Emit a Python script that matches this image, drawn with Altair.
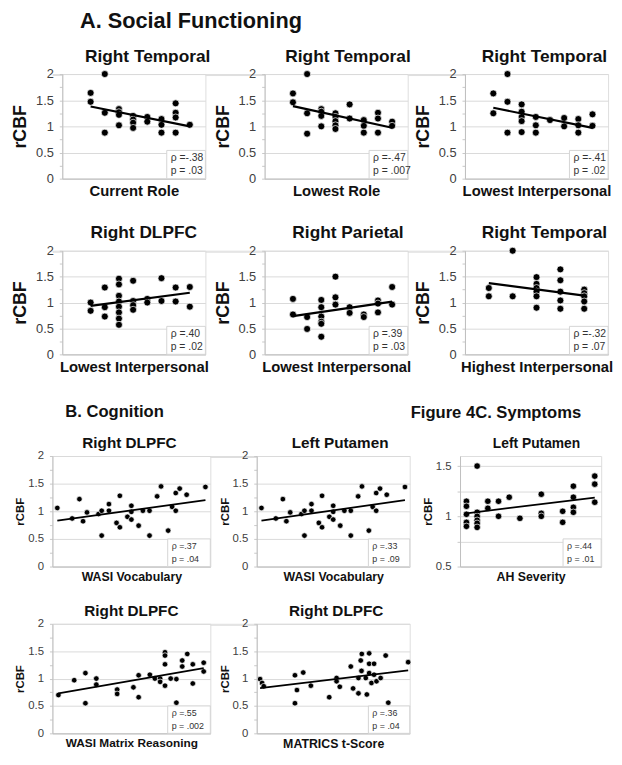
import altair as alt
import pandas as pd
import numpy as np

FONT = "Liberation Sans"

# ---------------- data ----------------
# A. Social functioning (x = ordinal rating, y = rCBF)
a1_x = [1, 1, 2, 2, 2, 3, 3, 3, 3, 4, 4, 4, 4, 5, 5, 6, 6, 6, 7, 7, 7, 7, 8]
a1_y = [1.64, 1.47, 2.0, 1.26, 0.88, 1.33, 1.27, 1.22, 1.02, 1.2, 1.13, 1.07, 0.97,
        1.18, 1.09, 1.14, 1.03, 0.88, 1.44, 1.26, 1.17, 0.88, 1.03]

a2_x = [1, 1, 2, 2, 2, 3, 3, 3, 3, 4, 4, 4, 4, 4, 5, 5, 6, 6, 6, 7, 7, 7, 8, 8]
a2_y = [1.63, 1.46, 2.0, 1.25, 0.86, 1.33, 1.28, 1.2, 1.0, 1.25, 1.18, 1.1, 1.02, 0.95,
        1.42, 1.15, 1.12, 1.01, 0.88, 1.26, 1.15, 0.88, 1.09, 1.01]

a3_x = [1, 1, 2, 2, 2, 3, 3, 3, 3, 3, 4, 4, 4, 5, 6, 6, 7, 7, 7, 8, 8]
a3_y = [1.63, 1.25, 2.0, 1.47, 0.88, 1.42, 1.28, 1.18, 1.1, 0.89, 1.18, 1.02, 0.88,
        1.12, 1.16, 1.0, 1.14, 1.02, 0.88, 1.23, 1.01]

a4_x = [1, 1, 2, 2, 2, 3, 3, 3, 3, 3, 3, 3, 3, 4, 4, 4, 4, 5, 5, 6, 6, 7, 7, 8, 8]
a4_y = [1.0, 0.84, 1.29, 0.91, 0.73, 1.46, 1.35, 1.13, 1.02, 0.92, 0.81, 0.69, 0.57,
        1.42, 1.03, 0.95, 0.86, 1.07, 1.0, 1.47, 1.03, 1.29, 1.02, 1.3, 0.92]

a5_x = [1, 1, 2, 2, 3, 3, 3, 3, 3, 3, 4, 4, 4, 5, 5, 6, 6, 7, 7, 7, 8, 8]
a5_y = [1.07, 0.77, 0.72, 0.49, 1.05, 0.91, 0.73, 0.63, 0.59, 0.34, 1.5, 1.1, 0.96,
        0.91, 0.8, 0.77, 0.72, 1.04, 0.98, 0.81, 1.3, 0.96]

a6_x = [1, 1, 2, 2, 3, 3, 3, 3, 3, 3, 4, 4, 4, 4, 4, 5, 5, 5, 5, 5]
a6_y = [1.28, 1.12, 2.0, 1.12, 1.49, 1.36, 1.28, 1.21, 1.12, 0.9, 1.64, 1.43, 1.21,
        1.04, 0.88, 1.25, 1.18, 1.12, 1.02, 0.88]

# B. Cognition
vocab_x = [3.1, 12.5, 17.1, 19.4, 21.9, 29.2, 31.2, 31.2, 35.8, 35.8, 40.6, 42.7, 42.7,
           47.5, 50, 50, 50, 54.6, 57.3, 61.5, 61.5, 66.3, 68.8, 73.3, 75.8, 78.1, 78.1,
           80.6, 85, 96.9]
vocab_y = [1.06, 0.87, 1.22, 0.82, 0.98, 0.95, 1.01, 0.56, 1.13, 1.01, 0.79, 1.28, 0.71,
           0.9, 1.1, 0.99, 0.85, 0.74, 1.01, 1.01, 0.56, 1.27, 1.45, 0.65, 1.08, 1.01, 1.33,
           1.41, 1.3, 1.44]

matrix_x = [3.8, 13.8, 20.9, 20.9, 27.8, 27.8, 41, 41, 51.3, 54.6, 54.6, 61.7, 64.9, 68.2,
            68.2, 71.3, 71.3, 71.3, 71.3, 74.9, 78.5, 78.5, 82.2, 82.2, 85.4, 88.9, 88.9,
            95.8, 95.8]
matrix_y = [0.70, 0.97, 1.10, 0.55, 1.0, 0.89, 0.8, 0.72, 0.84, 1.06, 0.66, 1.07, 1.0, 1.0,
            0.94, 1.48, 1.42, 1.26, 0.87, 1.0, 0.99, 0.56, 1.33, 1.22, 1.45, 1.26, 0.91,
            1.29, 1.13]

matrics_x = [2.2, 3.5, 4.6, 25, 26.3, 25, 30.4, 35.4, 47.4, 52.2, 52.2, 54.3, 61.5, 63,
             66.5, 66.5, 68, 68.7, 68.5, 71.3, 72, 73.5, 73.5, 73.5, 75, 76.7, 76.7, 78.3,
             81, 84.3, 86, 99]
matrics_y = [0.99, 0.92, 0.86, 1.06, 0.79, 0.55, 1.11, 0.87, 0.66, 1.01, 0.95, 0.85, 1.22,
             0.82, 0.73, 1.01, 1.33, 1.45, 1.14, 1.01, 0.71, 1.46, 1.27, 1.1, 0.92, 1.27,
             1.07, 0.95, 1.01, 1.42, 0.56, 1.3]

# C. Symptoms
ah_x = [1, 1, 1, 1, 1, 2, 2, 2, 2, 2, 2, 3, 3, 4, 4, 5, 6, 8, 8, 8, 10, 10, 11, 11, 11, 11,
        13, 13, 13]
ah_y = [1.15, 1.1, 1.02, 0.94, 0.9, 1.5, 1.04, 1.0, 0.96, 0.93, 0.89, 1.15, 1.08, 1.15, 1.0,
        1.19, 0.98, 1.22, 1.03, 1.0, 1.05, 0.94, 1.3, 1.19, 1.09, 1.04, 1.4, 1.32, 1.14]

# ---------------- styles ----------------
BIG = dict(title=17.5, xt=15, yt=18, lab=13, rho=10.5, size=50, lw=2.2,
           xtp=5, ytp=6, lpad=6, toff=3, boxfrac=0.27)
SMALL = dict(title=15.5, xt=12.5, yt=11.5, lab=11.5, rho=9, size=32, lw=1.8,
             xtp=4, ytp=2, lpad=6, toff=-1.5, boxfrac=0.25)
SYM = dict(SMALL, title=14, size=44, toff=5)


def panel(xs, ys, title, xtitle, rho, pval, xdom, ydom, w, h, st, dx, allgrid=False):
    df = pd.DataFrame({"x": xs, "y": ys})
    ticks = [round(v, 2) for v in np.arange(ydom[0], ydom[1] + 1e-9, 0.25)]
    xscale = alt.Scale(domain=xdom, nice=False, zero=False)
    yscale = alt.Scale(domain=ydom, nice=False, zero=False)
    xaxis = alt.Axis(title=xtitle, labels=False, ticks=False, grid=False,
                     domainColor="#bfbfbf", titleFontSize=st["xt"], titleFontWeight="bold",
                     titleFont=FONT, titleColor="#111", titlePadding=st["xtp"])
    grid_op = 1 if allgrid else {"condition": {"test": "datum.value % 0.5 != 0", "value": 0},
                                  "value": 1}
    yaxis = alt.Axis(title="rCBF", values=ticks,
                     labelExpr="datum.value % 0.5 == 0 ? format(datum.value, '~g') : ''",
                     grid=True, gridColor="#d9d9d9", gridOpacity=grid_op,
                     tickColor="#c8c8c8", tickSize=3, domainColor="#bfbfbf",
                     labelFontSize=st["lab"], labelColor="#404040", labelFont=FONT,
                     labelPadding=st["lpad"], titleFontSize=st["yt"], titleFontWeight="bold",
                     titleFont=FONT, titleColor="#111", titlePadding=st["ytp"])

    def X(field=None, datum=None):
        if datum is not None:
            return alt.X(datum=datum, type="quantitative", scale=xscale, axis=xaxis)
        return alt.X(field, type="quantitative", scale=xscale, axis=xaxis)

    def Y(field=None, datum=None):
        if datum is not None:
            return alt.Y(datum=datum, type="quantitative", scale=yscale, axis=yaxis)
        return alt.Y(field, type="quantitative", scale=yscale, axis=yaxis)

    xr = xdom[1] - xdom[0]
    yr = ydom[1] - ydom[0]
    bx0 = xdom[0] + 0.73 * xr
    by1 = ydom[0] + st["boxfrac"] * yr
    info = pd.DataFrame({"rho": [rho], "p": [pval]})

    box = alt.Chart(info).mark_rect(fill="white", stroke="#d4d4d4", strokeWidth=1).encode(
        x=X(datum=bx0), x2=alt.X2(datum=xdom[1]), y=Y(datum=ydom[0]), y2=alt.Y2(datum=by1))
    pts = alt.Chart(df).mark_circle(size=st["size"], color="black", opacity=1,
                                    stroke="white", strokeWidth=0.7).encode(x=X("x"), y=Y("y"))
    line = alt.Chart(df).transform_regression("x", "y").mark_line(
        color="black", strokeWidth=st["lw"]).encode(x=X("x"), y=Y("y"))
    t1 = alt.Chart(info).mark_text(align="left", baseline="middle", fontSize=st["rho"],
                                   font=FONT, color="#333", dx=4).encode(
        x=X(datum=bx0), y=Y(datum=ydom[0] + st["boxfrac"] * yr * 0.74), text="rho:N")
    t2 = alt.Chart(info).mark_text(align="left", baseline="middle", fontSize=st["rho"],
                                   font=FONT, color="#333", dx=4).encode(
        x=X(datum=bx0), y=Y(datum=ydom[0] + st["boxfrac"] * yr * 0.27), text="p:N")

    return alt.layer(box, pts, line, t1, t2).properties(
        width=w, height=h,
        title=alt.TitleParams(title, fontSize=st["title"], fontWeight="bold", font=FONT,
                              color="#111", anchor="middle", frame="group", dx=dx,
                              offset=st["toff"]))


def spacer(w):
    return alt.Chart(pd.DataFrame({"a": [0]})).mark_point(opacity=0, size=1).encode(
        x=alt.X("a:Q", axis=None), y=alt.Y("a:Q", axis=None)).properties(width=w, height=1)


YD = [0, 2]
XA = [-1, 9.1]
W = 145

A1 = panel(a1_x, a1_y, "Right Temporal", "Current Role", "ρ =-.38", "p = .03", XA, YD, W, 106, BIG, 14)
A2 = panel(a2_x, a2_y, "Right Temporal", "Lowest Role", "ρ =-.47", "p = .007", XA, YD, W, 106, BIG, 12)
A3 = panel(a3_x, a3_y, "Right Temporal", "Lowest Interpersonal", "ρ =-.41", "p = .02", XA, YD, W, 106, BIG, 8)
A4 = panel(a4_x, a4_y, "Right DLPFC", "Lowest Interpersonal", "ρ =.40", "p = .02", XA, YD, W, 105, BIG, 10)
A5 = panel(a5_x, a5_y, "Right Parietal", "Lowest Interpersonal", "ρ =.39", "p = .03", XA, YD, W, 105, BIG, 12)
A6 = panel(a6_x, a6_y, "Right Temporal", "Highest Interpersonal", "ρ =-.32", "p = .07", [0, 6], YD, W, 105, BIG, 8)

B1 = panel(vocab_x, vocab_y, "Right DLPFC", "WASI Vocabulary", "ρ =.37", "p = .04", [0, 100], YD, 160, 112, SMALL, -2)
B2 = panel(vocab_x, vocab_y, "Left Putamen", "WASI Vocabulary", "ρ =.33", "p = .09", [0, 100], YD, 155, 112, SMALL, 7)
C1 = panel(ah_x, ah_y, "Left Putamen", "AH Severity", "ρ =.44", "p = .01", [0.4, 13.6], [0.5, 1.6], 143, 112, SYM, 6, allgrid=True)
B3 = panel(matrix_x, matrix_y, "Right DLPFC", "WASI Matrix Reasoning", "ρ =.55", "p = .002", [0, 100], YD, 160, 111, dict(SMALL, xt=12), 0)
B4 = panel(matrics_x, matrics_y, "Right DLPFC", "MATRICS t-Score", "ρ =.36", "p = .04", [0, 100], YD, 155, 111, SMALL, 3)

secA = alt.TitleParams("A. Social Functioning", fontSize=22, fontWeight="bold", font=FONT,
                       color="#111", anchor="start", frame="group", dx=28, offset=15)
secB = alt.TitleParams("B. Cognition", fontSize=16.8, fontWeight="bold", font=FONT,
                       color="#111", anchor="start", frame="group", dx=13, offset=15.5)
secC = alt.TitleParams("Figure 4C. Symptoms", fontSize=16.8, fontWeight="bold", font=FONT,
                       color="#111", anchor="start", frame="group", dx=-50, offset=15.5)

row1 = alt.hconcat(spacer(10), A1, spacer(60), A2, spacer(58), A3,
                   spacing=0, bounds="flush", title=secA)
row2 = alt.hconcat(spacer(10), A4, spacer(60), A5, spacer(58), A6,
                   spacing=0, bounds="flush")
row3 = alt.hconcat(alt.hconcat(B1, spacer(47), B2, spacing=0, bounds="flush", title=secB),
                   alt.hconcat(C1, title=secC), spacing=0)
row4 = alt.hconcat(B3, spacer(47), B4, spacing=0, bounds="flush")

chart = alt.vconcat(
    alt.vconcat(row1, row2, spacing=25),
    alt.vconcat(row3, row4, spacing=20),
    spacing=29,
).properties(
    padding={"left": 3, "top": -3, "right": 0, "bottom": -1}
).configure_view(stroke=None).configure(font=FONT)

chart.save("out.html", embed_options={"renderer": "svg", "actions": False})
